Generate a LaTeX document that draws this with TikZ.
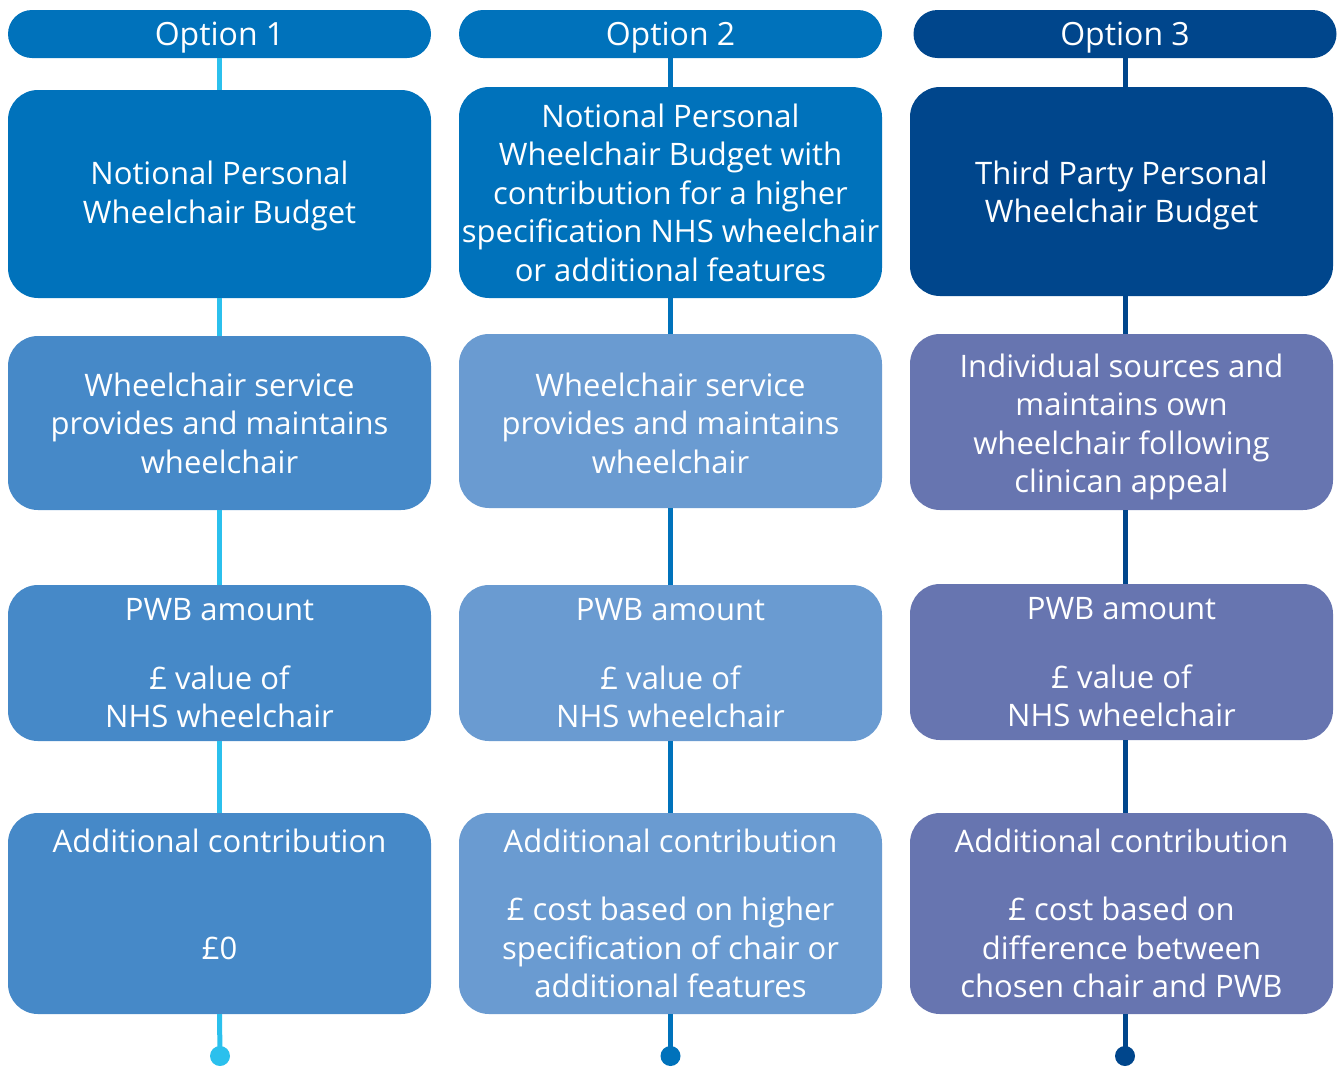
\documentclass[tikz,border=0pt]{standalone}
\usepackage{fontspec}
\setmainfont{Open Sans}
\definecolor{hblue}{HTML}{0072BB}
\definecolor{hdark}{HTML}{00468C}
\definecolor{mblue}{HTML}{4689C8}
\definecolor{lblue}{HTML}{6A9BD1}
\definecolor{pblue}{HTML}{6775B0}
\definecolor{cyanline}{HTML}{2BC0ED}
\tikzset{
  hdr/.style={rounded corners=24pt, minimum width=423pt, minimum height=48pt, inner sep=0pt, text=white, text height=22.5pt, text depth=0pt, font=\fontsize{32}{38.5}\selectfont},
  boxx/.style={rounded corners=30pt, minimum width=423pt, inner sep=0pt, align=center, text=white, font=\fontsize{31}{38.5}\selectfont},
  conn/.style={line width=5pt},
  dotnode/.style={circle, minimum size=20pt, inner sep=0pt}
}
\begin{document}
\begin{tikzpicture}[x=1pt,y=-1pt]
\useasboundingbox (0,0) rectangle (1338,1066);
% headers
\node[hdr, fill=hblue] (h1) at (219.5,34) {Option 1};
\node[hdr, fill=hblue] (h2) at (670.5,34) {Option 2};
\node[hdr, fill=hdark] (h3) at (1125,34) {Option 3};
% row 1
\node[boxx, fill=hblue, minimum height=208pt] (r1c1) at (219.5,194) {\rule{0pt}{27.5pt}Notional Personal\\Wheelchair Budget};
\node[boxx, fill=hblue, minimum height=211pt] (r1c2) at (670.5,192.5) {Notional Personal\\Wheelchair Budget with\\contribution for a higher\\specification NHS wheelchair\\or additional features};
\node[boxx, fill=hdark, minimum height=209pt] (r1c3) at (1121.5,191.5) {\rule{0pt}{31.5pt}Third Party Personal\\Wheelchair Budget};
% row 2
\node[boxx, fill=mblue, minimum height=174pt] (r2c1) at (219.5,423) {Wheelchair service\\provides and maintains\\wheelchair};
\node[boxx, fill=lblue, minimum height=174pt] (r2c2) at (670.5,421) {\rule{0pt}{27.5pt}Wheelchair service\\provides and maintains\\wheelchair};
\node[boxx, fill=pblue, minimum height=176pt] (r2c3) at (1121.5,422) {\rule{0pt}{33pt}Individual sources and\\maintains own\\wheelchair following\\clinican appeal};
% row 3
\node[boxx, fill=mblue, minimum height=156pt] (r3c1) at (219.5,663) {PWB amount\\[30.5pt]£ value of\\NHS wheelchair};
\node[boxx, fill=lblue, minimum height=156pt] (r3c2) at (670.5,663) {PWB amount\\[30.5pt]£ value of\\NHS wheelchair};
\node[boxx, fill=pblue, minimum height=156pt] (r3c3) at (1121.5,662) {PWB amount\\[30.5pt]£ value of\\NHS wheelchair};
% row 4
\node[boxx, fill=mblue, minimum height=201pt] (r4c1) at (219.5,913.5) {Additional contribution\\[29.5pt]\phantom{x}\\£0\\\phantom{l}};
\node[boxx, fill=lblue, minimum height=201pt] (r4c2) at (670.5,913.5) {Additional contribution\\[29.5pt]£ cost based on higher\\specification of chair or\\additional features};
\node[boxx, fill=pblue, minimum height=201pt] (r4c3) at (1121.5,913.5) {Additional contribution\\[29.5pt]£ cost based on\\difference between\\chosen chair and PWB};
% dots
\node[dotnode, fill=cyanline] (d1) at (220,1056) {};
\node[dotnode, fill=hblue] (d2) at (670.5,1056) {};
\node[dotnode, fill=hdark] (d3) at (1125,1056) {};
% connectors
\draw[conn, cyanline] (h1.south) -- (r1c1.north);
\draw[conn, cyanline] (r1c1.south) -- (r2c1.north);
\draw[conn, cyanline] (r2c1.south) -- (r3c1.north);
\draw[conn, cyanline] (r3c1.south) -- (r4c1.north);
\draw[conn, cyanline] (r4c1.south) -- (d1.center);
\draw[conn, hblue] (h2.south) -- (r1c2.north);
\draw[conn, hblue] (r1c2.south) -- (r2c2.north);
\draw[conn, hblue] (r2c2.south) -- (r3c2.north);
\draw[conn, hblue] (r3c2.south) -- (r4c2.north);
\draw[conn, hblue] (r4c2.south) -- (d2.center);
\draw[conn, hdark] (h3.south) -- (h3.south |- r1c3.north);
\draw[conn, hdark] (h3.south |- r1c3.south) -- (h3.south |- r2c3.north);
\draw[conn, hdark] (h3.south |- r2c3.south) -- (h3.south |- r3c3.north);
\draw[conn, hdark] (h3.south |- r3c3.south) -- (h3.south |- r4c3.north);
\draw[conn, hdark] (h3.south |- r4c3.south) -- (d3.center);
\end{tikzpicture}
\end{document}
